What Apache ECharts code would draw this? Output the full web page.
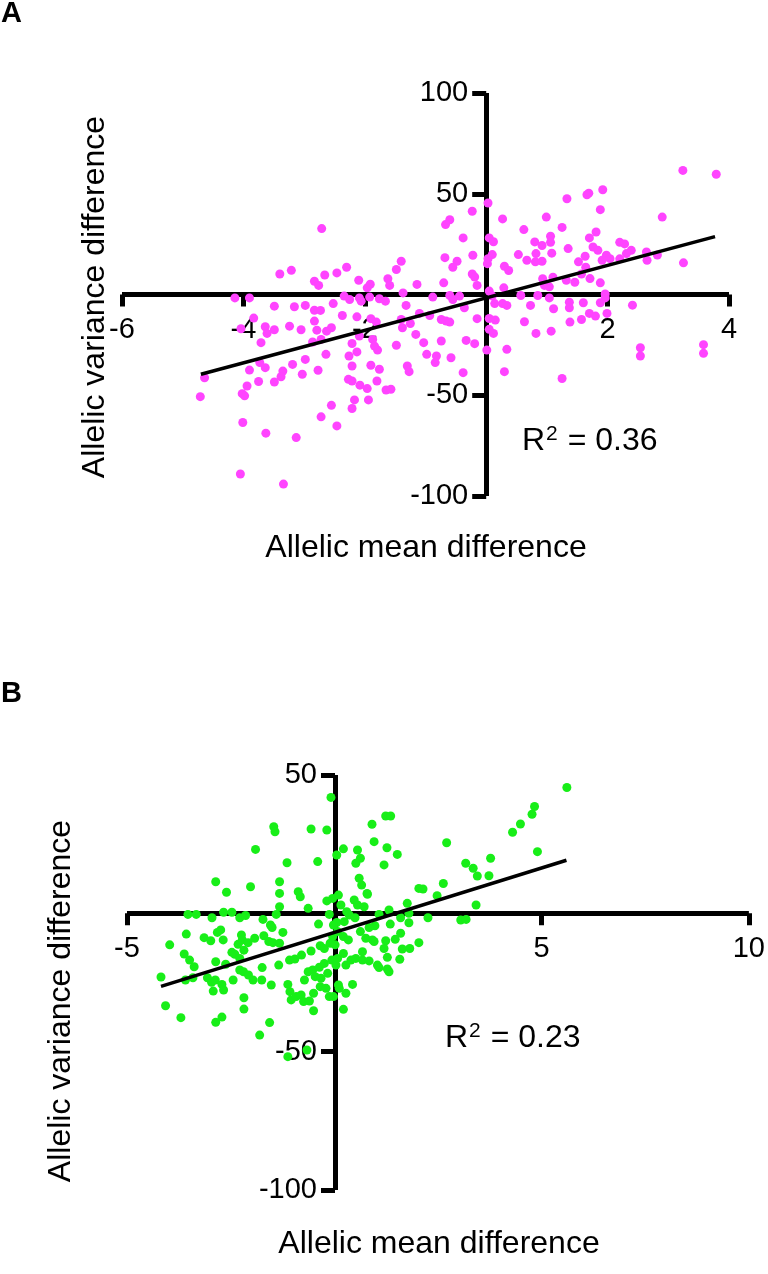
<!DOCTYPE html>
<html>
<head>
<meta charset="utf-8">
<script src="https://cdn.jsdelivr.net/npm/echarts@6/dist/echarts.min.js"></script>
<style>
html,body{margin:0;padding:0;background:#fff;}
#chart{width:768px;height:1274px;}
</style>
</head>
<body>
<div id="chart"></div>
<script>
// ---------- DATA ----------
const panelLabels = ['A', 'B'];
const xTitle = 'Allelic mean difference';
const yTitle = 'Allelic variance difference';
const r2Values = ['0.36', '0.23'];

const xRangeA = [-6, 4, 2];      // min, max, interval
const yRangeA = [-100, 100, 50];
const xRangeB = [-5, 10, 5];
const yRangeB = [-100, 50, 50];

// Panel A: [allelic mean difference, allelic variance difference]
const pointsA = [
[-0.60,37.1],[-0.67,34.7],[-2.71,32.7],[-0.68,18.3],[-0.48,16.5],[-0.55,13.5],[-1.40,16.5],[-1.48,12.4],[-2.30,13.5],[-2.46,10.7],
[-2.66,9.7],[-2.83,6.6],[-2.76,4.5],[-3.21,12.0],[-3.40,10.2],[-2.10,7.1],[-1.91,5.1],[-1.96,3.3],[-1.62,7.8],[-1.59,4.5],
[-1.14,5.0],[-0.70,5.8],[-1.37,0.8],[-4.14,-1.7],[-3.90,-1.7],[-2.34,-0.8],[-2.25,-2.5],[-2.09,-1.7],[-1.92,-1.3],[-2.06,-3.3],
[-1.76,-2.1],[-1.66,-3.3],[-0.88,-1.3],[-0.60,-0.5],[-0.55,-2.5],[-3.49,-5.8],[-3.16,-6.1],[-2.98,-5.4],[-2.83,-7.8],[-2.73,-7.9],
[-2.52,-4.5],[-1.32,-5.4],[-3.83,-11.7],[-3.64,-16.0],[-3.49,-17.5],[-3.61,-19.3],[-3.24,-15.7],[-3.05,-17.5],[-2.83,-13.2],[-2.79,-17.7],
[-2.63,-18.2],[-2.55,-16.5],[-2.37,-10.4],[-2.13,-11.1],[-1.90,-12.0],[-1.81,-13.7],[-4.04,-17.0],[-1.40,-12.4],[-1.38,-16.5],[-1.25,-14.4],
[-1.10,-9.4],[-0.93,-10.4],[-0.74,-12.4],[-0.66,-13.2],[-0.60,-13.7],[-0.74,-23.1],[-3.71,-23.9],[-2.86,-23.6],[-2.72,-22.3],[-2.21,-24.3],
[-2.09,-20.6],[-1.87,-22.3],[-1.84,-25.6],[-1.79,-27.6],[-1.48,-25.2],[-1.16,-19.8],[-1.03,-23.9],[-0.98,-29.7],[-0.82,-30.5],[-0.84,-33.8],
[-0.58,-31.4],[-2.64,-29.7],[-2.26,-30.5],[-2.13,-28.5],[-3.90,-37.5],[-3.64,-36.3],[-3.73,-33.8],[-3.19,-34.7],[-2.98,-32.2],[-2.77,-37.6],
[-3.03,-39.6],[-3.35,-38.0],[-3.38,-40.8],[-3.49,-43.4],[-3.75,-43.2],[-3.94,-45.4],[-4.02,-49.2],[-3.98,-50.3],[-2.21,-35.5],[-1.90,-35.1],
[-1.76,-37.1],[-1.30,-35.5],[-1.27,-38.3],[-2.27,-42.1],[-2.21,-42.9],[-2.08,-45.0],[-1.96,-46.7],[-1.80,-42.9],[-1.65,-47.4],[-1.57,-47.0],
[-4.64,-41.3],[-4.71,-50.7],[-2.55,-55.0],[-2.17,-52.3],[-1.94,-52.3],[-2.21,-56.6],[-4.01,-63.5],[-3.63,-68.8],[-3.13,-71.0],[-2.72,-60.7],
[-2.46,-65.2],[-4.05,-89.1],[-3.34,-94.1],
[3.24,61.6],[3.79,59.7],[1.92,52.0],[1.69,50.3],[1.66,49.5],[1.33,47.5],[0.03,45.4],[-0.23,41.3],[1.88,42.1],[0.27,37.5],
[0.99,38.4],[2.90,38.4],[1.25,33.3],[0.62,32.2],[1.81,31.0],[-0.38,28.1],[0.05,28.1],[0.12,26.2],[0.80,26.1],[0.92,24.3],
[1.06,28.9],[1.06,25.9],[1.70,28.1],[2.20,25.9],[2.28,25.1],[2.39,21.9],[2.31,20.3],[2.20,17.7],[1.76,23.6],[1.84,21.9],
[1.98,19.5],[2.04,17.8],[1.91,17.0],[1.35,22.8],[1.08,20.5],[0.82,20.3],[0.67,17.0],[0.81,16.2],[0.92,16.5],[0.53,19.8],
[-0.22,19.5],[0.10,19.8],[0.03,17.8],[0.02,15.3],[0.30,14.0],[0.37,11.9],[1.52,16.2],[1.63,19.0],[1.64,13.5],[2.64,21.1],
[2.65,17.0],[2.82,19.6],[3.25,15.7],[-0.23,10.2],[-0.19,8.7],[-0.15,4.5],[0.93,7.8],[1.10,8.6],[1.32,7.1],[1.46,6.1],
[1.71,7.9],[1.88,5.8],[1.57,10.2],[0.96,4.5],[1.04,3.8],[0.29,3.3],[0.57,-0.5],[0.85,-0.5],[1.04,-1.7],[0.05,1.7],
[0.10,-0.8],[-0.44,-0.8],[1.96,0.3],[1.96,-1.7],[1.88,-4.1],[0.14,-4.5],[0.27,-4.5],[0.34,-5.4],[0.73,-5.4],[1.11,-7.1],
[1.37,-3.8],[1.37,-6.6],[1.60,-4.1],[1.70,-9.4],[1.80,-10.7],[1.57,-12.4],[1.99,-9.4],[2.41,-5.3],[-0.36,-6.6],[-0.15,-12.0],
[0.05,-11.9],[0.15,-12.7],[0.63,-13.5],[1.38,-13.7],[0.05,-17.3],[0.12,-19.3],[0.82,-19.3],[1.07,-18.2],[-0.33,-22.8],[-0.19,-24.4],
[0.01,-27.6],[0.34,-27.2],[2.54,-26.4],[2.54,-30.5],[3.58,-24.9],[3.58,-29.2],[-0.38,-38.8],[0.30,-38.3],[1.25,-41.7]
];

// Panel B
const pointsB = [
[-0.08,41.9],[-1.46,31.3],[-1.43,29.5],[-0.56,30.5],[-0.18,30.1],[-1.90,23.1],[0.22,23.3],[0.06,21.1],[0.56,22.9],[-1.14,18.3],
[-0.40,18.7],[0.63,19.9],[0.52,18.1],[-2.86,11.4],[-2.02,9.6],[-1.32,11.4],[-2.60,7.6],[-1.32,7.2],[-0.87,7.8],[-0.82,6.0],
[0.60,12.7],[0.66,10.2],[0.79,7.2],[-1.32,2.4],[-0.63,1.8],[-0.18,4.5],[-0.04,5.4],[0.10,6.6],[0.16,3.0],[0.30,0.6],
[0.48,4.8],[0.56,3.0],[0.72,2.4],[-3.53,-0.4],[-3.33,-0.4],[-2.95,-1.6],[-2.67,0.4],[-2.47,0.4],[-2.28,-1.6],[-2.14,-0.8],
[-1.72,-2.2],[-1.40,-0.4],[-0.12,-0.4],[0.06,-3.3],[0.24,-3.0],[0.36,-0.6],[0.50,-1.6],[-1.54,-4.2],[-1.50,-5.1],[-1.24,-6.9],
[-0.38,-3.9],[-0.02,-4.2],[-3.57,-7.5],[-3.14,-8.8],[-2.82,-6.9],[-2.74,-6.0],[-2.68,-9.6],[-2.98,-9.9],[-2.47,-14.1],[-2.32,-11.2],
[-2.24,-7.8],[-2.22,-9.6],[-2.08,-10.6],[-1.92,-9.0],[-1.70,-8.1],[-1.58,-10.2],[-1.48,-10.6],[-1.32,-10.8],[-3.97,-11.4],[-3.62,-14.7],
[-3.49,-16.9],[-3.38,-19.3],[-2.86,-17.5],[-2.62,-18.4],[-2.40,-14.8],[-2.28,-16.3],[-2.18,-13.3],[-1.08,-16.9],[-0.95,-16.5],[-0.79,-15.1],
[-0.56,-13.6],[-0.34,-11.7],[-0.24,-12.7],[-0.10,-10.8],[0.02,-11.4],[-0.04,-8.4],[0.08,-6.6],[0.22,-8.4],[0.34,-9.6],[0.63,-6.6],
[0.76,-9.0],[-4.18,-23.0],[-3.59,-24.1],[-3.41,-23.3],[-3.06,-23.3],[-2.96,-24.9],[-2.87,-24.1],[-2.71,-25.7],[-2.67,-27.7],[-2.44,-24.1],
[-2.28,-20.5],[-2.19,-21.1],[-2.07,-22.3],[-1.96,-24.1],[-1.75,-24.1],[-1.74,-19.6],[-1.52,-25.9],[-1.34,-18.7],[-1.12,-25.7],[-0.72,-24.1],
[-0.63,-21.1],[-0.52,-20.5],[-0.46,-22.9],[-0.36,-19.5],[-0.32,-23.5],[-0.24,-18.1],[-0.16,-21.7],[-0.06,-16.9],[0.04,-18.7],[0.08,-16.3],
[0.22,-14.5],[0.28,-18.7],[0.40,-16.9],[0.52,-16.3],[0.68,-16.9],[-4.07,-33.4],[-3.70,-37.7],[-2.92,-28.1],[-2.18,-30.5],[-2.18,-34.6],
[-2.86,-39.4],[-2.71,-37.5],[-1.07,-28.3],[-1.04,-31.3],[-0.92,-30.1],[-0.80,-29.5],[-0.74,-31.9],[-0.60,-31.7],[-0.50,-28.9],[-0.50,-35.2],
[-0.34,-26.5],[-0.20,-27.1],[-0.12,-30.1],[-0.02,-30.1],[0.10,-25.9],[0.12,-27.1],[0.28,-28.9],[0.44,-25.7],[0.22,-34.7],[-1.80,-44.0],
[-1.56,-39.5],[-1.12,-51.8],[-0.66,-49.4],
[5.61,45.5],[4.83,38.6],[4.77,35.8],[4.49,32.3],[4.30,29.3],[4.90,22.3],[1.24,35.2],[1.36,35.2],[0.91,32.2],[0.96,25.9],
[2.71,25.5],[1.27,23.7],[1.52,21.3],[1.20,17.5],[3.77,19.9],[3.17,18.1],[3.35,16.3],[3.45,13.5],[3.73,13.6],[2.63,10.8],
[2.04,9.0],[2.14,8.8],[2.48,6.4],[0.80,6.9],[1.76,3.6],[1.32,1.2],[1.08,-0.4],[1.80,0.0],[1.60,-1.6],[2.26,-1.6],
[3.05,-2.4],[3.18,-2.2],[3.42,3.0],[1.80,-3.4],[1.35,-3.9],[0.98,-4.5],[0.84,-5.1],[1.60,-7.2],[1.47,-9.4],[1.24,-9.9],
[0.92,-9.6],[0.96,-10.2],[2.04,-10.6],[1.64,-12.9],[1.82,-12.7],[1.20,-12.7],[0.68,-13.9],[0.84,-17.2],[1.28,-15.9],[1.58,-16.6],
[1.04,-18.7],[1.08,-19.6],[1.28,-20.1],[1.32,-21.1]
];

// Linear regression lines (endpoints)
const fitA = [[-4.70,-39.6],[3.77,28.7]];
const fitB = [[-4.18,-26.4],[5.60,19.2]];

// ---------- CHART ----------
const FONT = '"Liberation Sans", Arial, Helvetica, sans-serif';
const colorA = '#FF44FF';
const colorB = '#18EE18';

const gridA = { left: 122, top: 93, width: 607, height: 403 };
const gridB = { left: 127, top: 775, width: 624, height: 415 };

// place each axis through the other axis's zero (crossing axes)
function zeroOffsetX(grid, yr) { return -grid.height * (0 - yr[0]) / (yr[1] - yr[0]); }
function zeroOffsetY(grid, xr) { return -grid.width * (0 - xr[0]) / (xr[1] - xr[0]); }

function xAxisCfg(idx, r, off) {
  return {
    type: 'value', gridIndex: idx, min: r[0], max: r[1], interval: r[2],
    position: 'bottom', offset: off,
    axisLine: { show: true, onZero: false, lineStyle: { color: '#000', width: 5, cap: 'butt' } },
    axisTick: { show: true, length: 12, lineStyle: { color: '#000', width: 5 } },
    axisLabel: { show: true, margin: 21, color: '#000', fontSize: 29, fontFamily: FONT,
      showMinLabel: true, showMaxLabel: true,
      formatter: v => (v === 0 ? '' : String(v)) },
    splitLine: { show: false }
  };
}
function yAxisCfg(idx, r, off) {
  return {
    type: 'value', gridIndex: idx, min: r[0], max: r[1], interval: r[2],
    position: 'left', offset: off,
    axisLine: { show: true, onZero: false, lineStyle: { color: '#000', width: 5, cap: 'butt' } },
    axisTick: { show: true, length: 14, lineStyle: { color: '#000', width: 5 } },
    axisLabel: { show: true, margin: 18, color: '#000', fontSize: 29, fontFamily: FONT,
      showMinLabel: true, showMaxLabel: true,
      formatter: v => (v === 0 ? '' : String(v)) },
    splitLine: { show: false }
  };
}

function r2Text(val, x, y) {
  return {
    type: 'text', x: x, y: y,
    style: {
      text: '{m|R}{s|2}{m| = ' + val + '}',
      rich: {
        m: { fontSize: 32, fontFamily: FONT, fill: '#000', lineHeight: 34 },
        s: { fontSize: 21, fontFamily: FONT, fill: '#000', verticalAlign: 'top', lineHeight: 34, padding: [0, 1, 0, 1] }
      },
      align: 'left', verticalAlign: 'middle'
    }
  };
}

const chart = echarts.init(document.getElementById('chart'), null, { renderer: 'canvas' });
chart.setOption({
  animation: false,
  backgroundColor: '#fff',
  grid: [gridA, gridB],
  xAxis: [xAxisCfg(0, xRangeA, zeroOffsetX(gridA, yRangeA)), xAxisCfg(1, xRangeB, zeroOffsetX(gridB, yRangeB))],
  yAxis: [yAxisCfg(0, yRangeA, zeroOffsetY(gridA, xRangeA)), yAxisCfg(1, yRangeB, zeroOffsetY(gridB, xRangeB))],
  series: [
    { type: 'scatter', xAxisIndex: 0, yAxisIndex: 0, data: pointsA, symbol: 'circle', symbolSize: 9,
      itemStyle: { color: colorA, opacity: 1 }, z: 3 },
    { type: 'line', xAxisIndex: 0, yAxisIndex: 0, data: fitA, symbol: 'none',
      lineStyle: { color: '#000', width: 3.5 }, z: 4 },
    { type: 'scatter', xAxisIndex: 1, yAxisIndex: 1, data: pointsB, symbol: 'circle', symbolSize: 9,
      itemStyle: { color: colorB, opacity: 1 }, z: 3 },
    { type: 'line', xAxisIndex: 1, yAxisIndex: 1, data: fitB, symbol: 'none',
      lineStyle: { color: '#000', width: 3.5 }, z: 4 }
  ],
  graphic: [
    { type: 'text', x: 1, y: 14, style: { text: panelLabels[0], fontSize: 29, fontWeight: 'bold', fontFamily: FONT, fill: '#000', align: 'left', verticalAlign: 'middle' } },
    { type: 'text', x: 1, y: 694, style: { text: panelLabels[1], fontSize: 29, fontWeight: 'bold', fontFamily: FONT, fill: '#000', align: 'left', verticalAlign: 'middle' } },
    { type: 'text', x: 426, y: 548, style: { text: xTitle, fontSize: 32, fontFamily: FONT, fill: '#000', align: 'center', verticalAlign: 'middle' } },
    { type: 'text', x: 439, y: 1244, style: { text: xTitle, fontSize: 32, fontFamily: FONT, fill: '#000', align: 'center', verticalAlign: 'middle' } },
    { type: 'text', x: 95, y: 297, rotation: Math.PI / 2, style: { text: yTitle, fontSize: 32, fontFamily: FONT, fill: '#000', align: 'center', verticalAlign: 'middle' } },
    { type: 'text', x: 61, y: 1001, rotation: Math.PI / 2, style: { text: yTitle, fontSize: 32, fontFamily: FONT, fill: '#000', align: 'center', verticalAlign: 'middle' } },
    r2Text(r2Values[0], 522, 441),
    r2Text(r2Values[1], 445, 1038)
  ]
});
</script>
</body>
</html>
